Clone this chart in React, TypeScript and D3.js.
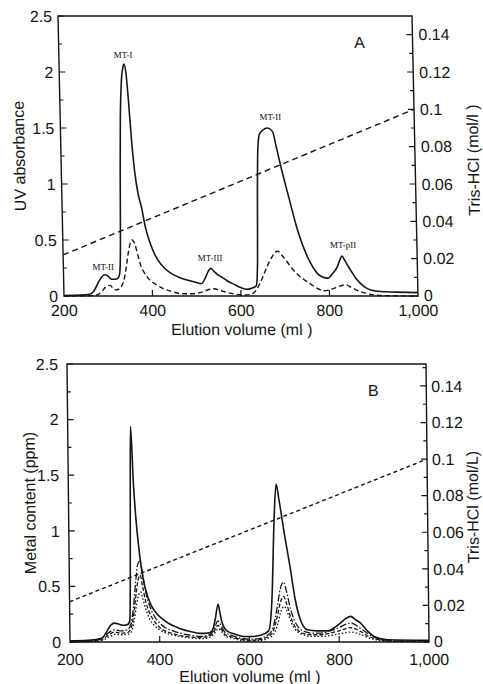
import * as d3 from "d3";

type Pt = [number, number];

// shared axes
const volumeTicks = [200, 400, 600, 800, 1000];
const volumeLabels = ["200", "400", "600", "800", "1,000"];
const leftTicks = [0, 0.5, 1, 1.5, 2, 2.5];
const leftLabels = ["0", "0.5", "1", "1.5", "2", "2.5"];
const trisTicks = [0, 0.02, 0.04, 0.06, 0.08, 0.1, 0.12, 0.14];
const trisLabels = ["0", "0.02", "0.04", "0.06", "0.08", "0.1", "0.12", "0.14"];

// panel A - UV absorbance vs elution volume (ml)
const uvSolidA: Pt[] = [
  [200, 0.005], [240, 0.008], [258, 0.015], [267, 0.04], [278, 0.12], [286, 0.17], [293, 0.19],
  [300, 0.18], [308, 0.15], [316, 0.15], [323, 0.16], [327, 0.2], [330, 0.45], [333, 1.1],
  [336, 1.6], [340, 1.92], [344, 2.04], [347, 2.07], [351, 1.98], [355, 1.75], [360, 1.4],
  [366, 1.1], [372, 0.92], [380, 0.78], [387, 0.62], [395, 0.5], [404, 0.4], [414, 0.32],
  [428, 0.25], [444, 0.2], [462, 0.165], [481, 0.14], [500, 0.12], [511, 0.11], [520, 0.16],
  [527, 0.22], [533, 0.247], [540, 0.22], [548, 0.19], [557, 0.17], [572, 0.13], [587, 0.1],
  [600, 0.075], [613, 0.06], [625, 0.07], [635, 0.09], [639, 0.3], [642, 0.9], [645, 1.3],
  [649, 1.44], [657, 1.48], [668, 1.5], [679, 1.47], [687, 1.33], [695, 1.18], [714, 0.86],
  [733, 0.56], [752, 0.35], [765, 0.25], [774, 0.2], [785, 0.17], [797, 0.16], [808, 0.2],
  [819, 0.26], [826, 0.33], [830, 0.357], [836, 0.32], [843, 0.27], [849, 0.23], [860, 0.16],
  [871, 0.11], [882, 0.075], [894, 0.054], [916, 0.04], [950, 0.035], [1000, 0.03],
];
const uvDashA: Pt[] = [
  [200, 0], [265, 0.003], [280, 0.02], [290, 0.06], [298, 0.09], [305, 0.095], [311, 0.07],
  [317, 0.055], [324, 0.06], [331, 0.09], [338, 0.17], [343, 0.28], [348, 0.4], [353, 0.48],
  [357, 0.5], [362, 0.47], [368, 0.38], [376, 0.26], [384, 0.2], [391, 0.16], [402, 0.12],
  [414, 0.09], [428, 0.06], [444, 0.04], [465, 0.02], [490, 0.02], [512, 0.035], [530, 0.06],
  [540, 0.065], [552, 0.05], [570, 0.03], [590, 0.015], [612, 0.01], [626, 0.02], [636, 0.06],
  [648, 0.15], [660, 0.26], [672, 0.35], [685, 0.4], [695, 0.36], [705, 0.31], [716, 0.25],
  [727, 0.2], [742, 0.15], [757, 0.11], [772, 0.07], [787, 0.047], [805, 0.06], [825, 0.09],
  [838, 0.1], [848, 0.08], [858, 0.06], [870, 0.04], [881, 0.025], [900, 0.01], [930, 0.003],
  [1000, 0],
];
const trisA: Pt[] = [[200, 0.022], [1000, 0.1]];
const peakNamesA = ["MT-II", "MT-I", "MT-III", "MT-II", "MT-pII"];
const peakSpotsA: Pt[] = [[290, 0.26], [345, 2.15], [532, 0.34], [675, 1.6], [833, 0.455]];

// panel B - metal content (ppm) vs elution volume (ml)
const metalSolidB: Pt[] = [
  [200, 0.01], [240, 0.015], [262, 0.025], [274, 0.045], [283, 0.1], [291, 0.15], [300, 0.17],
  [310, 0.16], [320, 0.15], [330, 0.16], [334, 0.2], [336, 0.6], [338, 1.4], [340, 1.94],
  [345, 1.43], [350, 1.1], [356, 0.83], [362, 0.63], [368, 0.5], [375, 0.4], [383, 0.32],
  [395, 0.25], [409, 0.2], [428, 0.15], [446, 0.12], [468, 0.095], [490, 0.078], [508, 0.08],
  [517, 0.1], [524, 0.2], [531, 0.34], [535, 0.26], [539, 0.18], [550, 0.1], [568, 0.07],
  [587, 0.05], [605, 0.05], [625, 0.06], [643, 0.1], [651, 0.38], [658, 1.13], [663, 1.42],
  [669, 1.28], [680, 0.98], [692, 0.68], [703, 0.38], [714, 0.2], [729, 0.11], [750, 0.1],
  [774, 0.1], [790, 0.13], [803, 0.17], [815, 0.21], [826, 0.23], [837, 0.2], [848, 0.17],
  [863, 0.1], [878, 0.05], [908, 0.02], [1000, 0.015],
];
const metalDashDotB: Pt[] = [
  [200, 0.005], [250, 0.01], [270, 0.03], [285, 0.08], [300, 0.11], [315, 0.1], [328, 0.11],
  [336, 0.16], [342, 0.3], [348, 0.55], [353, 0.7], [358, 0.73], [363, 0.62], [370, 0.45],
  [378, 0.33], [386, 0.25], [398, 0.18], [412, 0.13], [430, 0.1], [450, 0.075], [470, 0.06],
  [490, 0.05], [508, 0.06], [520, 0.1], [530, 0.19], [537, 0.15], [545, 0.09], [560, 0.06],
  [580, 0.035], [600, 0.025], [620, 0.03], [640, 0.06], [652, 0.12], [662, 0.3], [670, 0.48],
  [677, 0.54], [684, 0.45], [692, 0.3], [700, 0.2], [710, 0.13], [722, 0.095], [740, 0.08],
  [760, 0.08], [780, 0.1], [800, 0.13], [815, 0.16], [826, 0.17], [838, 0.15], [852, 0.11],
  [866, 0.07], [880, 0.04], [900, 0.02], [930, 0.01], [1000, 0.01],
];
const metalDashB: Pt[] = [
  [200, 0.003], [255, 0.008], [272, 0.025], [287, 0.065], [300, 0.09], [315, 0.08], [328, 0.085],
  [337, 0.13], [343, 0.25], [349, 0.45], [354, 0.57], [358, 0.6], [363, 0.5], [370, 0.36],
  [378, 0.26], [386, 0.2], [398, 0.14], [412, 0.1], [430, 0.075], [450, 0.055], [470, 0.045],
  [490, 0.04], [508, 0.05], [520, 0.085], [530, 0.15], [537, 0.12], [545, 0.07], [560, 0.045],
  [580, 0.025], [600, 0.015], [620, 0.02], [640, 0.045], [652, 0.09], [662, 0.22], [670, 0.36],
  [677, 0.41], [684, 0.34], [692, 0.23], [700, 0.15], [710, 0.1], [722, 0.075], [740, 0.065],
  [760, 0.065], [780, 0.08], [800, 0.1], [815, 0.12], [826, 0.13], [838, 0.115], [852, 0.085],
  [866, 0.05], [880, 0.03], [900, 0.012], [930, 0.005], [1000, 0.005],
];
const metalDotB: Pt[] = [
  [200, 0], [260, 0.005], [275, 0.02], [290, 0.05], [302, 0.07], [316, 0.065], [330, 0.07],
  [338, 0.1], [344, 0.2], [350, 0.35], [355, 0.43], [359, 0.45], [364, 0.38], [371, 0.28],
  [379, 0.2], [388, 0.15], [400, 0.11], [414, 0.08], [432, 0.06], [452, 0.045], [472, 0.035],
  [492, 0.03], [510, 0.04], [521, 0.07], [531, 0.12], [538, 0.095], [546, 0.055], [562, 0.035],
  [582, 0.015], [602, 0.008], [622, 0.012], [642, 0.035], [654, 0.07], [664, 0.17], [671, 0.28],
  [678, 0.32], [685, 0.27], [693, 0.18], [701, 0.12], [712, 0.08], [724, 0.06], [742, 0.05],
  [762, 0.05], [782, 0.06], [802, 0.075], [816, 0.085], [827, 0.09], [839, 0.08], [853, 0.06],
  [867, 0.035], [882, 0.02], [905, 0.008], [1000, 0],
];
const trisB: Pt[] = [[200, 0.022], [1000, 0.1]];

const SANS = "'Liberation Sans', Arial, Helvetica, sans-serif";
const INK = "#151515";

type Curve = { data: Pt[]; dash?: string; width?: number };

type PanelProps = {
  left: number;
  top: number;
  width: number;
  height: number;
  shear: number; // px of horizontal drift over the plot height (scan skew)
  trisMax: number;
  curves: Curve[];
  tris: Pt[];
  trisDash: string;
  yTitle: string;
  y2Title: string;
  letter: string;
  peakNames?: string[];
  peakSpots?: Pt[];
  gapL: number;
  gapR: number;
  yTitleX: number;
  y2TitleX: number;
  xLabelY: number;
  xTitleY: number;
};

function Panel(p: PanelProps) {
  const { width: w, height: h } = p;
  const x = d3.scaleLinear().domain([200, 1000]).range([0, w]);
  const y = d3.scaleLinear().domain([0, 2.5]).range([h, 0]);
  const y2 = d3.scaleLinear().domain([0, p.trisMax]).range([h, 0]);

  const line = d3
    .line<Pt>()
    .x((d) => x(d[0]))
    .y((d) => y(d[1]))
    .curve(d3.curveMonotoneX);
  const trisLine = d3
    .line<Pt>()
    .x((d) => x(d[0]))
    .y((d) => y2(d[1]));

  const leftMinor = d3.range(0, 2.5001, 0.25);
  const rightMinor = d3.range(0, p.trisMax - 0.001, 0.01);
  const skew = (Math.atan(p.shear / h) * 180) / Math.PI;

  return (
    <g transform={`translate(${p.left},${p.top}) skewX(${skew})`} fontFamily={SANS} fill={INK}>
      {p.curves.map((c, i) => (
        <path
          key={i}
          d={line(c.data) ?? ""}
          fill="none"
          stroke={INK}
          strokeWidth={c.width ?? 1.4}
          strokeDasharray={c.dash}
        />
      ))}
      <path d={trisLine(p.tris) ?? ""} fill="none" stroke={INK} strokeWidth={1.4} strokeDasharray={p.trisDash} />

      <rect x={0} y={0} width={w} height={h} fill="none" stroke={INK} strokeWidth={1.4} />

      {leftMinor.map((v, i) => {
        const major = i % 2 === 0;
        return <line key={"l" + i} x1={0} x2={major ? 6 : 3.5} y1={y(v)} y2={y(v)} stroke={INK} strokeWidth={1.2} />;
      })}
      {rightMinor.map((v, i) => {
        const major = i % 2 === 0;
        return <line key={"r" + i} x1={w} x2={w - (major ? 6 : 3.5)} y1={y2(v)} y2={y2(v)} stroke={INK} strokeWidth={1.2} />;
      })}
      {volumeTicks.slice(1, -1).map((v) => (
        <line key={"b" + v} x1={x(v)} x2={x(v)} y1={h} y2={h - 6} stroke={INK} strokeWidth={1.2} />
      ))}

      {leftTicks.map((v, i) => (
        <text key={"lt" + v} x={-p.gapL} y={y(v)} dy="0.36em" textAnchor="end" fontSize={16}>
          {leftLabels[i]}
        </text>
      ))}
      {trisTicks.map((v, i) => (
        <text key={"rt" + v} x={w + p.gapR} y={y2(v) - (i === 0 ? 1 : 0)} dy="0.36em" textAnchor="start" fontSize={16}>
          {trisLabels[i]}
        </text>
      ))}
      {volumeTicks.map((v, i) => (
        <text key={"bt" + v} x={x(v)} y={h + p.xLabelY} textAnchor="middle" fontSize={16}>
          {volumeLabels[i]}
        </text>
      ))}

      <text x={w / 2} y={h + p.xTitleY} textAnchor="middle" fontSize={16}>
        Elution volume (ml )
      </text>
      <text transform={`translate(${p.yTitleX},${h / 2}) rotate(-90)`} dy="0.36em" textAnchor="middle" fontSize={16}>
        {p.yTitle}
      </text>
      <text transform={`translate(${w + p.y2TitleX},${h / 2 + 4}) rotate(-90)`} dy="0.36em" textAnchor="middle" fontSize={16}>
        {p.y2Title}
      </text>
      <text x={w - 53} y={26} dy="0.36em" textAnchor="middle" fontSize={16}>
        {p.letter}
      </text>

      {(p.peakNames ?? []).map((name, i) => (
        <text
          key={"pk" + i}
          x={x(p.peakSpots![i][0])}
          y={y(p.peakSpots![i][1])}
          dy="0.35em"
          textAnchor="middle"
          fontSize={9}
          fontFamily="'Liberation Serif', 'Times New Roman', serif"
        >
          {name}
        </text>
      ))}
    </g>
  );
}

export default function App() {
  return (
    <svg
      width={483}
      height={684}
      viewBox="0 0 483 684"
      style={{ position: "absolute", left: 0, top: 0, background: "#fff" }}
    >
      <rect width={483} height={684} fill="#fff" />
      <Panel
        left={58}
        top={16}
        width={354}
        height={280}
        shear={6}
        trisMax={0.15}
        curves={[
          { data: uvSolidA, width: 1.6 },
          { data: uvDashA, dash: "5,3", width: 1.4 },
        ]}
        tris={trisA}
        trisDash="6,4"
        yTitle="UV absorbance"
        y2Title="Tris-HCl (mol/l )"
        letter="A"
        peakNames={peakNamesA}
        peakSpots={peakSpotsA}
        gapL={6}
        gapR={6}
        yTitleX={-42}
        y2TitleX={58}
        xLabelY={20}
        xTitleY={39}
      />
      <Panel
        left={67}
        top={364}
        width={359}
        height={278}
        shear={3}
        trisMax={0.152}
        curves={[
          { data: metalSolidB, width: 1.6 },
          { data: metalDashDotB, dash: "7,2,1.5,2", width: 1.3 },
          { data: metalDashB, dash: "4,2", width: 1.3 },
          { data: metalDotB, dash: "1.5,2", width: 1.3 },
        ]}
        tris={trisB}
        trisDash="4,3"
        yTitle="Metal content (ppm)"
        y2Title="Tris-HCl (mol/L)"
        letter="B"
        gapL={9}
        gapR={5}
        yTitleX={-39}
        y2TitleX={45}
        xLabelY={23}
        xTitleY={40}
      />
    </svg>
  );
}
